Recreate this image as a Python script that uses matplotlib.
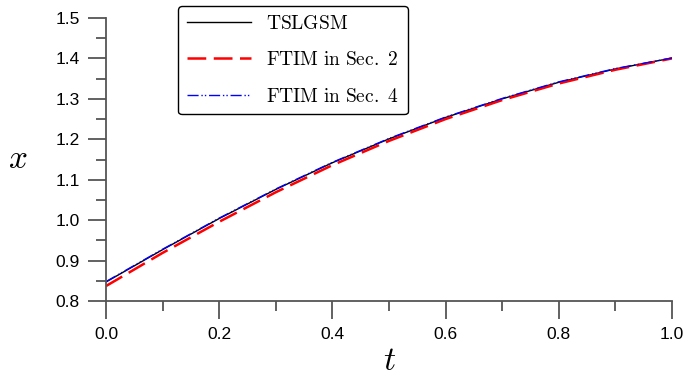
import matplotlib.pyplot as plt
import numpy as np

# values
t = [0.0, 0.1, 0.2, 0.3, 0.4, 0.5, 0.6, 0.7, 0.8, 0.9, 1.0]
x_tslgsm = [0.847, 0.927, 1.004, 1.076, 1.142, 1.201, 1.254, 1.300, 1.341, 1.374, 1.401]
x_ftim2 = [0.837, 0.919, 0.996, 1.069, 1.136, 1.196, 1.250, 1.297, 1.338, 1.372, 1.400]
x_ftim4 = [0.848, 0.928, 1.005, 1.077, 1.143, 1.202, 1.255, 1.301, 1.342, 1.375, 1.401]

labels = [r'$\mathrm{TSLGSM}$', r'$\mathrm{FTIM\ in\ Sec.\ 2}$', r'$\mathrm{FTIM\ in\ Sec.\ 4}$']

plt.rcParams['mathtext.fontset'] = 'cm'
plt.rcParams['font.family'] = ['Liberation Sans', 'DejaVu Sans']

fig = plt.figure(figsize=(6.86, 3.76), dpi=100)
ax = fig.add_axes([106/686, 1-301/376, 566/686, 283/376])

ax.plot(t, x_tslgsm, color='black', lw=1.0, label=labels[0])
ax.plot(t, x_ftim2, color='#ff0000', lw=1.8, dashes=(7.5, 3), label=labels[1])
ax.plot(t, x_ftim4, color='#0000ff', lw=1.0, dashes=(8, 2, 1, 1.5, 1, 2), label=labels[2])

ax.set_xlim(0, 1)
ax.set_ylim(0.8, 1.5)
ax.set_xticks(np.arange(0, 1.01, 0.2))
ax.set_xticks(np.arange(0.1, 1.0, 0.2), minor=True)
ax.set_yticks(np.arange(0.8, 1.51, 0.1))
ax.set_yticks(np.arange(0.85, 1.5, 0.1), minor=True)
ax.set_xticklabels(['%.1f' % v for v in np.arange(0, 1.01, 0.2)])
ax.set_yticklabels(['%.1f' % v for v in np.arange(0.8, 1.51, 0.1)])

gray = '#555555'
for s in ['top', 'right']:
    ax.spines[s].set_visible(False)
for s in ['left', 'bottom']:
    ax.spines[s].set_color(gray)
    ax.spines[s].set_linewidth(1.3)
ax.tick_params(which='major', direction='out', length=13, width=1.3, color=gray,
               labelsize=12.5, pad=6)
ax.tick_params(which='minor', direction='out', length=7, width=1.3, color=gray)

fig.text(18/686, 1-160/376, r'$x$', fontsize=24, ha='center', va='center')
fig.text(390/686, 1-361/376, r'$t$', fontsize=24, ha='center', va='center')

leg = ax.legend(loc='upper left', bbox_to_anchor=(178/686, 1-6/376),
                bbox_transform=fig.transFigure, borderaxespad=0, fontsize=14,
                handlelength=3.3, handletextpad=0.8, labelspacing=0.95,
                borderpad=0.45, fancybox=True, framealpha=1, edgecolor='black')
leg.get_frame().set_linewidth(1.0)

fig.savefig('out.png', dpi=100)
